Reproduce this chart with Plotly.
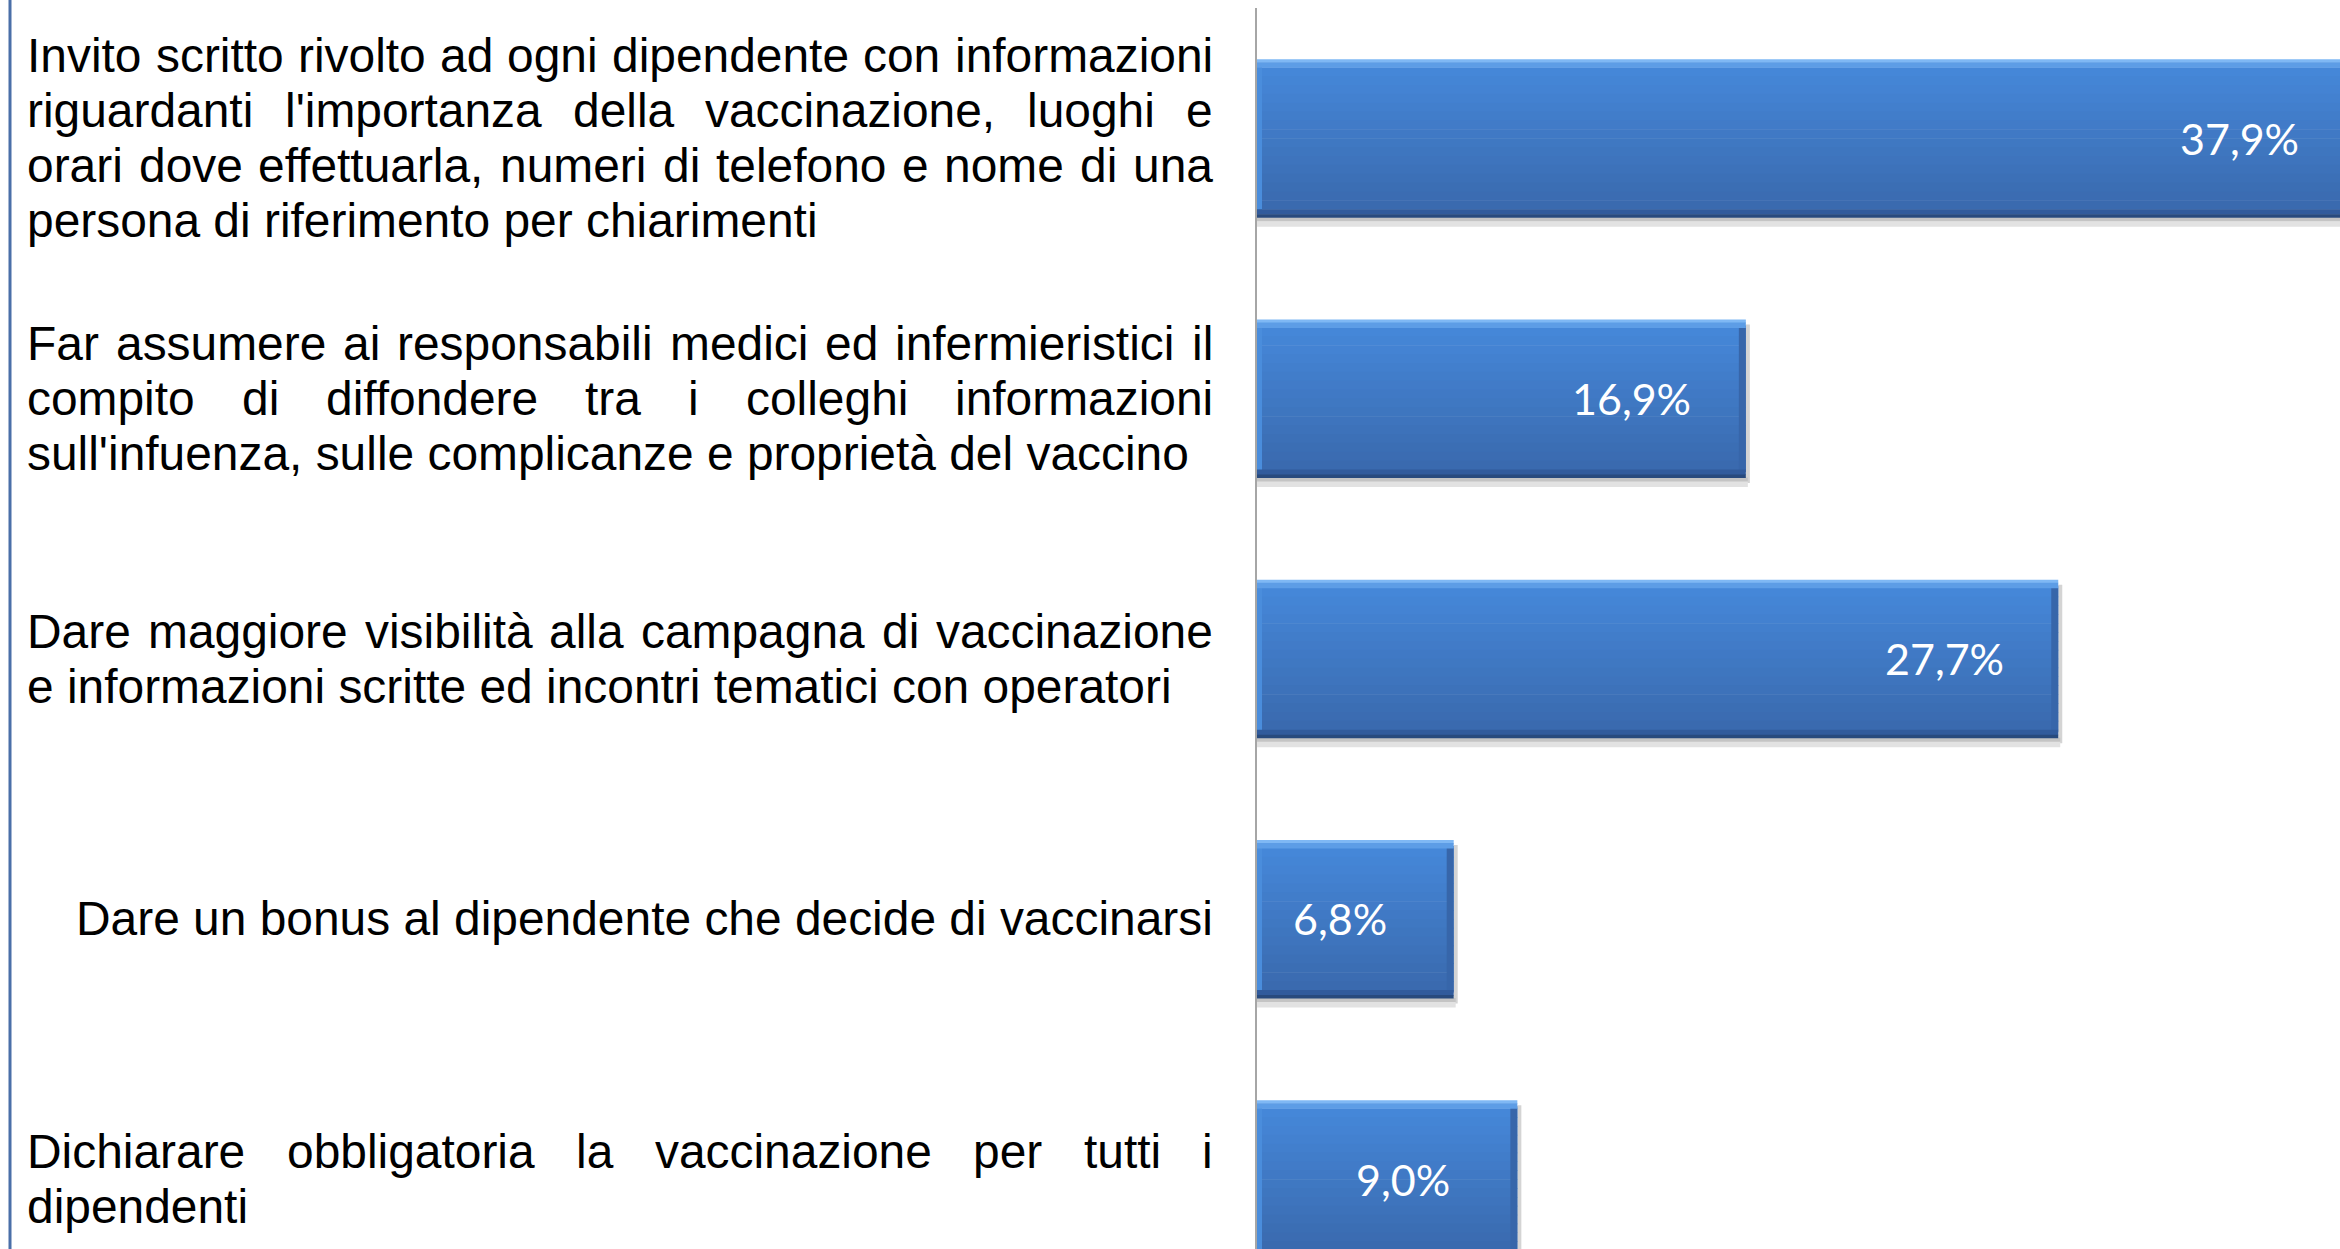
import plotly.graph_objects as go

# ---------------- data ----------------
categories = [
    "Invito scritto rivolto ad ogni dipendente con informazioni<br>riguardanti l'importanza della vaccinazione, luoghi e<br>orari dove effettuarla, numeri di telefono e nome di una<br>persona di riferimento per chiarimenti",
    "Far assumere ai responsabili medici ed infermieristici il<br>compito di diffondere tra i colleghi informazioni<br>sull'infuenza, sulle complicanze e proprietà del vaccino",
    "Dare maggiore visibilità alla campagna di vaccinazione<br>e informazioni scritte ed incontri tematici con operatori",
    "Dare un bonus al dipendente che decide di vaccinarsi",
    "Dichiarare obbligatoria la vaccinazione per tutti i<br>dipendenti",
]
values = [37.9, 16.9, 27.7, 6.8, 9.0]
value_labels = ["37,9%", "16,9%", "27,7%", "6,8%", "9,0%"]

# ---------------- layout geometry ----------------
W, H = 2340, 1249
ML, MT = 1257, 8
PLOT_W = W - ML
PLOT_H = H - MT
X_MAX = 37.44
Y_RANGE = [4.268, -0.5]
PX_PER_CAT = PLOT_H / (Y_RANGE[0] - Y_RANGE[1])
PX_PER_UNIT = PLOT_W / X_MAX

idx = list(range(len(categories)))

fig = go.Figure()


def hexmix(c1, c2, t):
    a = [int(c1[i:i + 2], 16) for i in (1, 3, 5)]
    b = [int(c2[i:i + 2], 16) for i in (1, 3, 5)]
    return "#%02x%02x%02x" % tuple(round(a[j] + (b[j] - a[j]) * t) for j in range(3))


BAR_PX = 158
top_off = -BAR_PX / 2 / PX_PER_CAT


def stripe(p0, p1, color, x=None, base=None):
    off = top_off + p0 / PX_PER_CAT
    wid = (p1 - p0 + 0.6) / PX_PER_CAT
    fig.add_trace(go.Bar(
        y=idx, x=x if x is not None else values, base=base, orientation="h",
        offset=off, width=wid, marker=dict(color=color, line=dict(width=0)),
        showlegend=False, hoverinfo="skip"))


# shadow on the right and below
stripe(5, 163, "#d4d4d4", x=[4 / PX_PER_UNIT] * len(values), base=values)
stripe(158, 162, "#c4c4c4", x=[v + 2 / PX_PER_UNIT for v in values])
stripe(162, 167, "#e2e2e2", x=[v + 2 / PX_PER_UNIT for v in values])

# main vertical gradient
N = 16
g0, g1 = 8, 150
for j in range(N):
    p0 = g0 + (g1 - g0) * j / N
    p1 = g0 + (g1 - g0) * (j + 1) / N
    stripe(p0, p1, hexmix("#4587d8", "#3a6aaf", j / (N - 1)))

# right bevel (darker) and left bevel (lighter)
stripe(6, 152, "#3766aa", x=[7 / PX_PER_UNIT] * len(values),
       base=[v - 7 / PX_PER_UNIT for v in values])
stripe(6, 152, "#4a8ddc", x=[5 / PX_PER_UNIT] * len(values))

# top highlight and bottom dark edge
stripe(0, 3, "#7fb8f4")
stripe(3, 8, "#5d9de6")
stripe(150, 155, "#315b9c")
stripe(155, 158, "#284a7d")

annotations = []

# value labels
LABEL_OFFSET = 114 / PX_PER_UNIT
for i, (v, lab) in enumerate(zip(values, value_labels)):
    annotations.append(dict(
        text=lab, x=v - LABEL_OFFSET, xref="x", y=i, yref="y",
        xanchor="center", yanchor="middle", yshift=0, showarrow=False,
        font=dict(family="Lato", size=43, color="white")))

# ---------------- category labels (justified text) ----------------
ARIAL = {
    " ": 278, "'": 191, ",": 278, "à": 556, "D": 722, "F": 611, "I": 278,
    "a": 556, "b": 556, "c": 500, "d": 556, "e": 556, "f": 278, "g": 556,
    "h": 556, "i": 222, "j": 222, "k": 500, "l": 222, "m": 833, "n": 556,
    "o": 556, "p": 556, "q": 556, "r": 333, "s": 500, "t": 278, "u": 556,
    "v": 500, "w": 722, "x": 500, "y": 500, "z": 500, ".": 278,
}
FS = 47.9
LINE_H = 54.8
X0, X1 = 27, 1213
FONT = dict(family="Liberation Sans", size=FS, color="black")


def tw(s):
    return sum(ARIAL.get(ch, 556) for ch in s) / 1000 * FS


def px2paper(p):
    return (p - ML) / PLOT_W


def add_text(text, px, anchor, yval, yshift):
    annotations.append(dict(
        text=text, x=px2paper(px), xref="paper", xanchor=anchor,
        y=yval, yref="y", yanchor="middle", yshift=yshift,
        showarrow=False, font=FONT, borderpad=0, borderwidth=0))


for i, cat in enumerate(categories):
    lines = cat.split("<br>")
    n = len(lines)
    for k, line in enumerate(lines):
        ys = ((n - 1) / 2 - k) * LINE_H
        if n == 1:
            add_text(line, X1, "right", i, ys)
        elif k == n - 1:
            add_text(line, X0, "left", i, ys)
        else:
            words = line.split(" ")
            total = sum(tw(w) for w in words)
            gap = (X1 - X0 - total) / (len(words) - 1)
            x = X0
            for w in words:
                add_text(w, x, "left", i, ys)
                x += tw(w) + gap

fig.update_layout(
    width=W, height=H,
    margin=dict(l=ML, r=0, t=MT, b=0, pad=0),
    barmode="overlay",
    plot_bgcolor="white", paper_bgcolor="white",
    xaxis=dict(range=[0, X_MAX], visible=False, fixedrange=True),
    yaxis=dict(range=Y_RANGE, showticklabels=False, ticks="", showgrid=False,
               zeroline=False, showline=True, linecolor="#a6a6a6", linewidth=2,
               fixedrange=True),
    annotations=annotations,
    shapes=[dict(type="line", xref="paper", yref="paper",
                 x0=px2paper(10), x1=px2paper(10), y0=-0.01, y1=1 + MT / PLOT_H + 0.01,
                 line=dict(color="#4a6fa8", width=3))],
    showlegend=False,
)

# remove the browser's default 8px body margin so the figure fills the window
fig.write_html(
    "out.html",
    config={"displayModeBar": False},
    post_script="document.body.style.margin='0';document.body.style.overflow='hidden';",
)
